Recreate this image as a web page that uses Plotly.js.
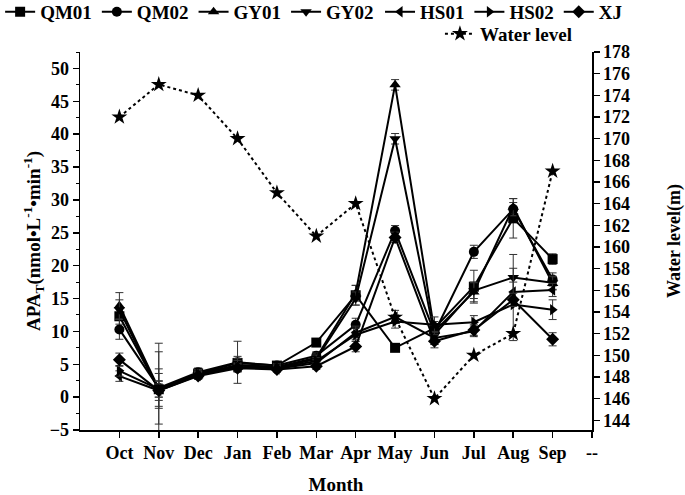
<!DOCTYPE html>
<html>
<head>
<meta charset="utf-8">
<script src="https://cdn.plot.ly/plotly-3.0.1.min.js"></script>
<style>html,body{margin:0;padding:0;background:#fff}#chart{width:685px;height:495px}</style>
</head>
<body>
<div id="chart"></div>
<script>
const months = ['Oct','Nov','Dec','Jan','Feb','Mar','Apr','May','Jun','Jul','Aug','Sep'];
const xCategories = ['Oct','Nov','Dec','Jan','Feb','Mar','Apr','May','Jun','Jul','Aug','Sep','--'];

const QM01 = [12.3, 1.2, 3.6, 5.2, 4.8, 8.3, 15.5, 7.5, 10.5, 16.8, 27.2, 21.0];
const QM02 = [10.3, 1.4, 3.8, 5.3, 4.8, 6.3, 11.0, 25.3, 9.8, 22.1, 28.6, 17.9];
const GY01 = [13.9, 1.3, 3.5, 4.9, 4.6, 6.0, 15.8, 47.5, 10.0, 16.0, 28.9, 17.3];
const GY02 = [13.3, 1.1, 3.4, 4.8, 4.5, 5.8, 15.0, 39.3, 9.5, 16.2, 18.2, 17.4];
const HS01 = [3.2, 1.0, 3.3, 4.6, 4.3, 5.2, 9.8, 12.2, 9.0, 10.0, 16.0, 16.3];
const HS02 = [4.0, 1.2, 3.5, 4.5, 4.4, 5.5, 9.5, 11.5, 11.0, 11.4, 14.1, 13.3];
const XJ   = [5.7, 1.0, 3.2, 4.4, 4.2, 4.7, 7.7, 24.3, 8.5, 10.2, 14.8, 8.8];

const QM01_err = [1.2, 7.0, 0.8, 1.0, 0.6, 0.5, 1.5, 0.5, 1.0, 2.5, 3.0, 0.8];
const QM02_err = [1.5, 5.5, 0.6, 3.2, 0.5, 0.6, 1.0, 0.8, 1.2, 1.0, 1.0, 1.0];
const GY01_err = [2.0, 3.0, 0.7, 1.0, 0.5, 0.7, 1.2, 0.8, 1.0, 1.5, 1.3, 1.0];
const GY02_err = [1.5, 2.5, 0.5, 0.8, 0.5, 0.6, 1.0, 0.8, 1.5, 1.2, 3.5, 1.0];
const HS01_err = [0.8, 1.5, 0.5, 0.6, 0.4, 0.5, 1.0, 1.0, 1.0, 0.8, 1.5, 1.0];
const HS02_err = [0.8, 1.2, 0.5, 0.6, 0.4, 0.5, 1.0, 1.0, 1.2, 1.0, 5.5, 1.5];
const XJ_err   = [1.0, 1.0, 0.5, 0.6, 0.4, 0.5, 0.8, 0.8, 1.0, 0.8, 1.0, 1.0];

const waterLevel = [172, 175, 174, 170, 165, 161, 164, 153.5, 146, 150, 152, 167];

const seriesNames = ['QM01','QM02','GY01','GY02','HS01','HS02','XJ'];
const seriesValues = [QM01, QM02, GY01, GY02, HS01, HS02, XJ];
const seriesErrors = [QM01_err, QM02_err, GY01_err, GY02_err, HS01_err, HS02_err, XJ_err];
const seriesSymbols = ['square','circle','triangle-up','triangle-down','triangle-left','triangle-right','diamond'];

const FONT = 'Liberation Serif, Times New Roman, serif';

const traces = seriesNames.map((n, i) => ({
  type: 'scatter', mode: 'lines+markers', name: n,
  x: months, y: seriesValues[i],
  line: {color: '#000', width: 2},
  marker: {symbol: seriesSymbols[i], size: 10, color: '#000'},
  error_y: {type: 'data', array: seriesErrors[i], visible: true, color: '#333', thickness: 1, width: 4},
  legend: i < 4 ? 'legend' : 'legend3'
}));

traces.push({
  type: 'scatter', mode: 'lines+markers', name: 'Water level',
  x: months, y: waterLevel, yaxis: 'y2',
  line: {color: '#000', width: 2, dash: 'dot'},
  marker: {symbol: 'star', size: 12, color: '#000'},
  legend: 'legend2'
});

const tickFont = {family: FONT, size: 18, color: '#000', weight: 'bold'};
const legFont = {family: FONT, size: 19, color: '#000', weight: 'bold'};

const layout = {
  width: 685, height: 495,
  margin: {l: 80, r: 93, t: 52, b: 65, autoexpand: false},
  paper_bgcolor: '#fff', plot_bgcolor: '#fff',
  font: {family: FONT, color: '#000'},
  xaxis: {
    type: 'category', categoryorder: 'array', categoryarray: xCategories,
    tickvals: xCategories, ticktext: xCategories,
    range: [-1, 12],
    showgrid: false, zeroline: false,
    showline: true, linecolor: '#000', linewidth: 1.5,
    ticks: 'outside', ticklen: 6, tickwidth: 1.5, tickcolor: '#000',
    tickfont: tickFont,
    title: {text: '<b>Month</b>', font: {family: FONT, size: 19, color: '#000'}, standoff: 16}
  },
  yaxis: {
    range: [-5, 52.5],
    tickvals: [-5,0,5,10,15,20,25,30,35,40,45,50],
    showgrid: false, zeroline: false,
    showline: true, linecolor: '#000', linewidth: 1.5,
    ticks: 'outside', ticklen: 6, tickwidth: 1.5, tickcolor: '#000',
    minor: {dtick: 2.5, tick0: 0, ticks: 'outside', ticklen: 3, tickwidth: 1, tickcolor: '#000'},
    tickfont: tickFont,
    title: {text: '<b>APA<sub>T</sub>(nmol•L<sup>-1</sup>•min<sup>-1</sup>)</b>', font: {family: FONT, size: 19, color: '#000'}, standoff: 4}
  },
  yaxis2: {
    overlaying: 'y', side: 'right',
    range: [143.1, 178],
    dtick: 2, tick0: 144,
    showgrid: false, zeroline: false,
    showline: true, linecolor: '#000', linewidth: 1.5,
    ticks: 'outside', ticklen: 6, tickwidth: 1.5, tickcolor: '#000',
    tickfont: tickFont,
    title: {text: '<b>Water level(m)</b>', font: {family: FONT, size: 18, color: '#000'}, standoff: 38}
  },
  legend: {
    orientation: 'h', x: -0.156, y: 1.106, xanchor: 'left', yanchor: 'middle',
    font: legFont, bgcolor: 'rgba(0,0,0,0)', borderwidth: 0
  },
  legend3: {
    orientation: 'h', x: 0.586, y: 1.106, xanchor: 'left', yanchor: 'middle',
    font: legFont, bgcolor: 'rgba(0,0,0,0)', borderwidth: 0
  },
  legend2: {
    orientation: 'h', x: 0.703, y: 1.048, xanchor: 'left', yanchor: 'middle',
    font: legFont, bgcolor: 'rgba(0,0,0,0)', borderwidth: 0
  },
  showlegend: true
};

Plotly.newPlot('chart', traces, layout, {displayModeBar: false, staticPlot: true});
</script>
</body>
</html>
